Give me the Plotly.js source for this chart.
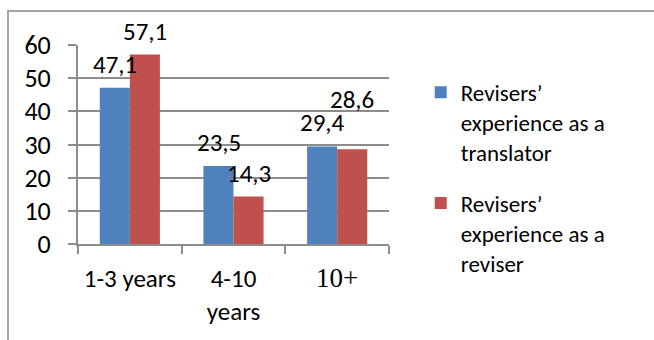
<!DOCTYPE html>
<html>
<head>
<meta charset="utf-8">
<script src="https://cdn.plot.ly/plotly-3.0.1.min.js"></script>
<style>
  html, body { margin: 0; padding: 0; background: #fff; }
  #wrap { position: relative; width: 654px; height: 340px; overflow: hidden; }
  #frame { position: absolute; left: 7px; top: 10px; width: 660px; height: 340px;
           border-left: 2px solid #a6a6a6; border-top: 2px solid #a6a6a6; }
  #chart { position: absolute; left: 0; top: 0; width: 654px; height: 340px; }
</style>
</head>
<body>
<div id="wrap">
  <div id="frame"></div>
  <div id="chart"></div>
</div>
<script>
// Survey groups and shares (%) for each series
const categories = ['1-3 years', '4-10 years', '10+'];
const tickLabels = ['1-3 years', '4-10<br>years', '<span style="font-family:serif;font-size:27px">10+</span>'];
const translatorValues = [47.1, 23.5, 29.4];
const reviserValues = [57.1, 14.3, 28.6];
const seriesNames = ['Revisers’<br>experience as a<br>translator', 'Revisers’<br>experience as a<br>reviser'];
const seriesColors = ['#4f81bd', '#c0504d'];

const FONT = 'Carlito, Lato, "Liberation Sans", sans-serif';
const SIZE = 25;
const fmt = v => v.toFixed(1).replace('.', ',');

const traces = [translatorValues, reviserValues].map((vals, i) => ({
  type: 'bar',
  x: categories,
  y: vals,
  name: seriesNames[i],
  legendgroup: 'g' + i,
  marker: { color: seriesColors[i] },
  offsetgroup: String(i),
  hoverinfo: 'skip'
}));

// value labels above each bar; when the two bars of a group are nearly
// level, the second label is lifted one line so the two do not collide
const annotations = [];
categories.forEach((cat, j) => {
  const pair = [translatorValues[j], reviserValues[j]];
  const close = Math.abs(pair[0] - pair[1]) < 6;
  pair.forEach((v, i) => {
    annotations.push({
      x: cat, y: v, xref: 'x', yref: 'y',
      text: fmt(v), showarrow: false,
      xshift: i === 0 ? -15 : 15,
      yanchor: 'bottom', yshift: 6 + (close && i === 1 ? 26 : 0),
      font: { family: FONT, size: SIZE, color: '#000' }
    });
  });
});

const layout = {
  width: 654, height: 340,
  margin: { l: 78, r: 265, t: 45, b: 96 },
  paper_bgcolor: 'rgba(0,0,0,0)',
  plot_bgcolor: 'rgba(0,0,0,0)',
  barmode: 'group',
  bargap: 0.42,
  bargroupgap: 0,
  font: { family: FONT, size: SIZE, color: '#000' },
  xaxis: {
    type: 'category',
    tickvals: categories,
    ticktext: tickLabels,
    tickangle: 0,
    showline: true, linecolor: '#8c8c8c', linewidth: 2,
    ticks: 'outside', tickson: 'boundaries', ticklen: 8, tickwidth: 2, tickcolor: '#8c8c8c',
    ticklabelstandoff: 11,
    showgrid: false, zeroline: false,
    tickfont: { family: FONT, size: SIZE, color: '#000' }
  },
  yaxis: {
    range: [0, 60],
    tickvals: [0, 10, 20, 30, 40, 50, 60],
    showline: true, linecolor: '#8c8c8c', linewidth: 2,
    ticks: 'outside', ticklen: 8, tickwidth: 2, tickcolor: '#8c8c8c',
    ticklabelstandoff: 12,
    showgrid: true, gridcolor: '#8c8c8c', gridwidth: 2,
    zeroline: false,
    tickfont: { family: FONT, size: 26, color: '#000' }
  },
  showlegend: true,
  legend: {
    x: 1.102, xanchor: 'left',
    y: 0.87, yanchor: 'top',
    valign: 'top',
    traceorder: 'grouped',
    tracegroupgap: 18,
    itemwidth: 30,
    maxheight: 320,
    bgcolor: 'rgba(0,0,0,0)',
    font: { family: FONT, size: 23, color: '#000' }
  },
  annotations: annotations
};

Plotly.newPlot('chart', traces, layout, { staticPlot: true, displayModeBar: false });
</script>
</body>
</html>
